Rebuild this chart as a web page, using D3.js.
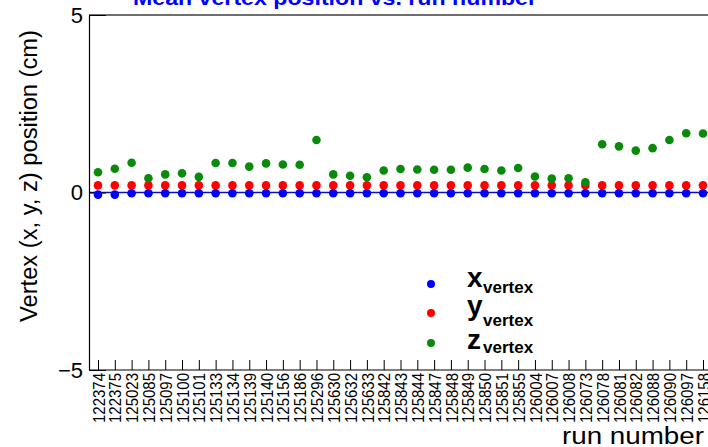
<!DOCTYPE html>
<html>
<head>
<meta charset="utf-8">
<script src="https://cdn.jsdelivr.net/npm/d3@7"></script>
<style>
  html, body { margin: 0; padding: 0; background: #fff; }
  svg { display: block; }
  text { font-family: "Liberation Sans", Arial, Helvetica, sans-serif; }
</style>
</head>
<body>
<svg id="chart" width="708" height="447"></svg>
<script>
const runs = ["122374","122375","125023","125085","125097","125100","125101","125133","125134","125139",
  "125140","125156","125186","125296","125630","125632","125633","125842","125843","125844",
  "125847","125848","125849","125850","125851","125855","126004","126007","126008","126073",
  "126078","126081","126082","126088","126090","126097","126158"];
const xVertex = [-0.06,-0.06,-0.02,-0.02,-0.02,-0.02,-0.02,-0.02,-0.02,-0.02,
  -0.02,-0.02,-0.02,-0.02,-0.02,-0.02,-0.02,-0.02,-0.02,-0.02,
  -0.02,-0.02,-0.02,-0.02,-0.02,-0.02,-0.02,-0.02,-0.02,-0.02,
  -0.02,-0.02,-0.02,-0.02,-0.02,-0.02,-0.02];
const yVertex = [0.2,0.2,0.2,0.2,0.2,0.2,0.2,0.2,0.2,0.2,
  0.2,0.2,0.2,0.2,0.2,0.2,0.2,0.2,0.2,0.2,
  0.2,0.2,0.2,0.2,0.2,0.2,0.2,0.2,0.2,0.2,
  0.2,0.2,0.2,0.2,0.2,0.2,0.2];
const zVertex = [0.57,0.67,0.84,0.40,0.51,0.54,0.44,0.83,0.83,0.73,
  0.82,0.79,0.78,1.48,0.51,0.47,0.43,0.62,0.66,0.65,
  0.64,0.64,0.70,0.66,0.62,0.69,0.45,0.39,0.40,0.29,
  1.36,1.30,1.18,1.25,1.48,1.67,1.66];
const yTicks = [-5, 0, 5];
const title = "Mean vertex position vs. run number";
const yTitle = "Vertex (x, y, z) position (cm)";
const xTitle = "run number";
const legendNames = ["x", "y", "z"];
const legendSub = "vertex";

const svg = d3.select("#chart");
const mLeft = 89, mRight = 708, mTop = 15, mBottom = 370;

const x = d3.scalePoint().domain(runs).range([98, 703]);
const y = d3.scaleLinear().domain([-5, 5]).range([mBottom, mTop]);

// top frame line
svg.append("line").attr("x1", mLeft).attr("x2", mRight).attr("y1", mTop).attr("y2", mTop)
  .attr("stroke", "#6e6e6e").attr("stroke-width", 2);

// zero line
svg.append("line").attr("x1", mLeft).attr("x2", mRight).attr("y1", y(0)).attr("y2", y(0))
  .attr("stroke", "#1010b0").attr("stroke-width", 1.5);

// x axis
const xAxis = svg.append("g").attr("transform", `translate(0,${mBottom})`)
  .call(d3.axisBottom(x).tickSizeInner(-10).tickSizeOuter(0));
xAxis.select(".domain").remove();
xAxis.append("line").attr("x1", mLeft).attr("x2", mRight).attr("y1", 0).attr("y2", 0)
  .attr("stroke", "#000").attr("stroke-width", 1.2);
xAxis.selectAll(".tick line").attr("stroke", "#000");
xAxis.selectAll(".tick text")
  .attr("transform", "rotate(-90)")
  .attr("x", -3).attr("y", 0).attr("dy", "0.36em")
  .attr("textLength", 50).attr("lengthAdjust", "spacingAndGlyphs")
  .style("text-anchor", "end")
  .style("font-size", "17px")
  .attr("fill", "#000");

// y axis
const yAxis = svg.append("g").attr("transform", `translate(${mLeft},0)`)
  .call(d3.axisLeft(y).tickValues(yTicks).tickSizeInner(-17).tickSizeOuter(0).tickPadding(6)
    .tickFormat(d3.format("d")));
yAxis.select(".domain").attr("stroke", "#000").attr("stroke-width", 1.2);
yAxis.selectAll(".tick line").attr("stroke", "#000");
yAxis.selectAll(".tick text").style("font-size", "22px").attr("fill", "#000");

// points
const r = 4.3;
function drawSeries(vals, color) {
  svg.append("g").selectAll("circle").data(vals).join("circle")
    .attr("cx", (d, i) => x(runs[i]))
    .attr("cy", d => y(d))
    .attr("r", r)
    .attr("fill", color);
}
drawSeries(yVertex, "#ff0000");
drawSeries(xVertex, "#0000ff");
drawSeries(zVertex, "#0a8a0a");

// title
svg.append("text").attr("x", 133).attr("y", 5)
  .attr("textLength", 404).attr("lengthAdjust", "spacingAndGlyphs")
  .style("font-size", "20px").style("font-weight", "bold").attr("fill", "#0000ff")
  .text(title);

// y title
svg.append("text").attr("transform", "translate(37,176) rotate(-90)")
  .style("text-anchor", "middle").style("font-size", "23px").attr("fill", "#000")
  .attr("textLength", 292).attr("lengthAdjust", "spacingAndGlyphs")
  .text(yTitle);

// x title
svg.append("text").attr("x", 562).attr("y", 444)
  .style("font-size", "23px").attr("fill", "#000")
  .attr("textLength", 142).attr("lengthAdjust", "spacingAndGlyphs")
  .text(xTitle);

// legend
const legColors = ["#0000ff", "#ff0000", "#0a8a0a"];
const legDotY = [284, 313, 343];
const legBase = [287, 315, 349];
const legSubBase = [293, 326, 353];
legendNames.forEach((n, i) => {
  svg.append("circle").attr("cx", 431).attr("cy", legDotY[i]).attr("r", 4).attr("fill", legColors[i]);
  const t = svg.append("text").attr("x", 467).attr("y", legBase[i])
    .style("font-weight", "bold").attr("fill", "#000");
  t.append("tspan").style("font-size", "28px").text(n);
  t.append("tspan").style("font-size", "17px").attr("x", 483).attr("y", legSubBase[i]).text(legendSub);
});
</script>
</body>
</html>
